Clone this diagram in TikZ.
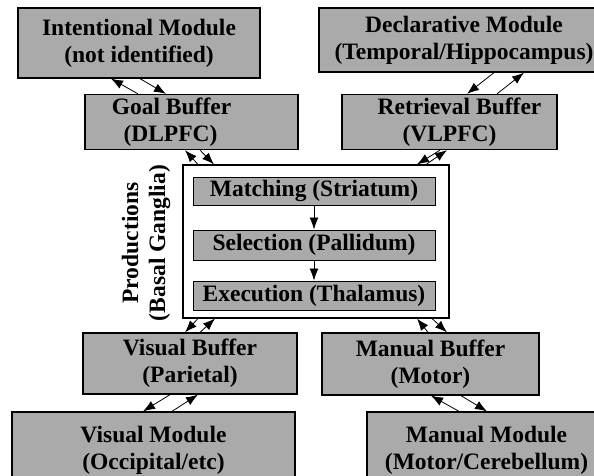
\documentclass[tikz,border=0pt]{standalone}
\usepackage{fontspec}
\setmainfont{Liberation Serif}
\usetikzlibrary{arrows.meta}
\definecolor{boxgray}{RGB}{170,170,170}
\tikzset{
    module/.style={draw,line width=1.3pt,fill=boxgray,align=center,inner sep=0pt,
        font=\bfseries\fontsize{23.5}{27}\selectfont},
    prodbox/.style={draw,line width=1.1pt,fill=white,inner sep=0pt},
    link/.style={-{Latex[length=12pt,width=9pt]},line width=0.8pt}
}

\begin{document}
\begin{tikzpicture}[x=1pt,y=-1pt]
    \useasboundingbox (0,0) rectangle (594,476);
    \path (139,   43) node [module,minimum width=242,minimum height=70] (intent) {Intentional Module\\(not identified)};
    \path (191.5,122) node [module,minimum width=213,minimum height=55] (goal) {Goal Buffer\hspace*{40pt}\\(DLPFC)\hspace*{42pt}};
    \path (464,   40) node [module,minimum width=290,minimum height=64] (decl) {Declarative Module\\(Temporal/Hippocampus)};
    \path (449.5,122) node [module,minimum width=215,minimum height=55] (retr) {\hspace*{20pt}Retrieval Buffer\\(VLPFC)};
    \path (316, 241.5) node [prodbox,minimum width=266,minimum height=153] (prod) {};
    \path (314,  191) node [module,line width=1pt,minimum width=242,minimum height=28] (match) {Matching (Striatum)};
    \path (314,  245) node [module,line width=1pt,minimum width=242,minimum height=30] (select) {Selection (Pallidum)};
    \path (314,295.5) node [module,line width=1pt,minimum width=242,minimum height=29] (exec) {Execution (Thalamus)};
    \path (146,  243) node [align=center,rotate=90,font=\bfseries\fontsize{23.5}{27}\selectfont] (prodlabel) {Productions\\(Basal Ganglia)};
    \path (190,363.5) node [module,minimum width=214,minimum height=61] (visbuf) {Visual Buffer\\(Parietal)};
    \path (430.5,364) node [module,minimum width=217,minimum height=62] (manbuf) {Manual Buffer\\(Motor)};
    \path (153.5,450) node [module,minimum width=283,minimum height=76] (vismod) {Visual Module\\(Occipital/etc)};
    \path (486.5,450) node [module,minimum width=239,minimum height=76] (manmod) {Manual Module\\(Motor/Cerebellum)};
    % module <-> buffer
    \draw [link] (138,0 |- goal.north) -- (111,0 |- intent.south);
    \draw [link] (140,0 |- intent.south) -- (166,0 |- goal.north);
    \draw [link] (494,0 |- decl.south) -- (467,0 |- retr.north);
    \draw [link] (497,0 |- retr.north) -- (524,0 |- decl.south);
    \draw [link] (170,0 |- visbuf.south) -- (143,0 |- vismod.north);
    \draw [link] (172,0 |- vismod.north) -- (198,0 |- visbuf.south);
    \draw [link] (459,0 |- manmod.north) -- (431,0 |- manbuf.south);
    \draw [link] (461,0 |- manbuf.south) -- (487,0 |- manmod.north);
    % buffer <-> productions
    \draw [link] (198,0 |- prod.north) -- (185,0 |- goal.south);
    \draw [link] (200,0 |- goal.south) -- (214,0 |- prod.north);
    \draw [link] (440,0 |- retr.south) -- (417,0 |- prod.north);
    \draw [link] (426,0 |- prod.north) -- (447,0 |- retr.south);
    \draw [link] (198,0 |- prod.south) -- (185,0 |- visbuf.north);
    \draw [link] (200,0 |- visbuf.north) -- (215,0 |- prod.south);
    \draw [link] (428,0 |- manbuf.north) -- (417,0 |- prod.south);
    \draw [link] (432,0 |- prod.south) -- (447,0 |- manbuf.north);
    % inside productions
    \draw [link] (match) -- (select);
    \draw [link] (select) -- (exec);
\end{tikzpicture}
\end{document}
